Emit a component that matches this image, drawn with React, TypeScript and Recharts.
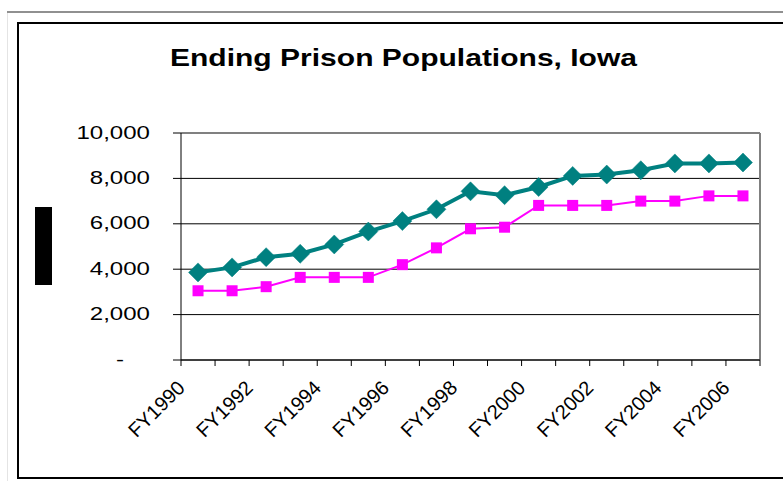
import React from 'react';
import { ComposedChart, Line, XAxis, YAxis, CartesianGrid } from 'recharts';

// ---------- data ----------
const categories = [
  'FY1990', 'FY1991', 'FY1992', 'FY1993', 'FY1994', 'FY1995', 'FY1996', 'FY1997', 'FY1998',
  'FY1999', 'FY2000', 'FY2001', 'FY2002', 'FY2003', 'FY2004', 'FY2005', 'FY2006',
];
const tealSeries = [3860, 4080, 4530, 4680, 5090, 5660, 6120, 6640, 7430, 7260, 7620, 8110, 8170, 8360, 8660, 8660, 8700];
const magentaSeries = [3050, 3050, 3230, 3640, 3640, 3640, 4200, 4940, 5780, 5850, 6810, 6810, 6810, 7000, 7000, 7230, 7230];
const yTicks = [0, 2000, 4000, 6000, 8000, 10000];
const titleText = 'Ending Prison Populations, Iowa';

const data = categories.map((c, i) => ({ year: c, teal: tealSeries[i], magenta: magentaSeries[i] }));

// ---------- layout ----------
const W = 783;
const H = 481;
const PLOT_LEFT = 181;
const PLOT_RIGHT = 760;
const PLOT_TOP = 133;
const PLOT_BOTTOM = 360;
const YAXIS_W = 100;
const XAXIS_H = 80;
const FONT = '"Liberation Sans", Arial, Helvetica, sans-serif';

const CHAR_W: Record<string, number> = {
  '0': 0.556, '1': 0.556, '2': 0.556, '3': 0.556, '4': 0.556, '5': 0.556, '6': 0.556,
  '7': 0.556, '8': 0.556, '9': 0.556, ',': 0.278, '-': 0.333, F: 0.611, Y: 0.667,
};
const textWidth = (s: string, size: number) =>
  s.split('').reduce((a, ch) => a + (CHAR_W[ch] ?? 0.556), 0) * size;

const fmtY = (v: number) => (v === 0 ? '-' : v.toLocaleString('en-US'));

const YTick = (props: any) => {
  const { x, y, payload } = props;
  const label = fmtY(payload.value);
  const size = 18.5;
  const tx = payload.value === 0 ? x - 26 : x;
  return (
    <text
      x={tx}
      y={y + 5.5}
      textAnchor="end"
      fontFamily={FONT}
      fontSize={size}
      fill="#000"
      textLength={textWidth(label, size) * 1.3}
      lengthAdjust="spacingAndGlyphs"
    >
      {label}
    </text>
  );
};

const XTick = (props: any) => {
  const { x, y, payload, index } = props;
  const band = (PLOT_RIGHT - PLOT_LEFT) / categories.length;
  const left = x - band / 2;
  const right = x + band / 2;
  const lx = x - 12;
  const ly = y + 29;
  return (
    <g>
      <line x1={left} y1={y} x2={left} y2={y + 6} stroke="#000" strokeWidth={1} />
      {index === categories.length - 1 && (
        <line x1={right} y1={y} x2={right} y2={y + 6} stroke="#000" strokeWidth={1} />
      )}
      {index % 2 === 0 && (
        <text
          x={lx}
          y={ly}
          textAnchor="end"
          fontFamily={FONT}
          fontSize={20}
          fill="#000"
          transform={`rotate(-45, ${lx}, ${ly})`}
        >
          {payload.value}
        </text>
      )}
    </g>
  );
};

const Diamond = (props: any) => {
  const { cx, cy, index } = props;
  if (cx == null || cy == null) return <g key={`d-${index}`} />;
  const r = 9.5;
  return (
    <polygon
      key={`d-${index}`}
      points={`${cx},${cy - r} ${cx + r},${cy} ${cx},${cy + r} ${cx - r},${cy}`}
      fill="#008080"
      stroke="#008080"
      strokeWidth={0.5}
    />
  );
};

const Square = (props: any) => {
  const { cx, cy, index } = props;
  if (cx == null || cy == null) return <g key={`s-${index}`} />;
  const s = 11;
  return <rect key={`s-${index}`} x={cx - s / 2} y={cy - s / 2} width={s} height={s} fill="#FF00FF" />;
};

export default function App() {
  return (
    <div
      style={{
        position: 'absolute',
        left: 0,
        top: 0,
        width: W,
        height: H,
        overflow: 'hidden',
        background: '#fff',
        fontFamily: FONT,
      }}
    >
      {/* outer sheet lines */}
      <div style={{ position: 'absolute', left: 7, top: 11, width: W, height: 2, background: '#909090' }} />
      <div style={{ position: 'absolute', left: 7, top: 13, width: 1, height: H, background: '#e4e4e4' }} />
      {/* chart frame */}
      <div
        style={{
          position: 'absolute',
          left: 17,
          top: 22,
          width: 820,
          height: 453,
          border: '2px solid #000',
        }}
      />
      {/* black block at left */}
      <div style={{ position: 'absolute', left: 35, top: 207, width: 17, height: 78, background: '#000' }} />

      <div style={{ position: 'absolute', left: 0, top: 0 }}>
        <ComposedChart
          width={W}
          height={H}
          data={data}
          margin={{
            top: PLOT_TOP,
            right: W - PLOT_RIGHT,
            bottom: H - PLOT_BOTTOM - XAXIS_H,
            left: PLOT_LEFT - YAXIS_W,
          }}
        >
          <CartesianGrid vertical={false} stroke="#000" strokeWidth={1} />
          <CartesianGrid
            stroke="#808080"
            strokeWidth={2}
            horizontalPoints={[PLOT_TOP]}
            verticalPoints={[PLOT_RIGHT]}
          />
          <XAxis
            dataKey="year"
            scale="band"
            interval={0}
            tickLine={false}
            tickSize={0}
            tickMargin={0}
            axisLine={{ stroke: '#000', strokeWidth: 1 }}
            height={XAXIS_H}
            tick={<XTick />}
          />
          <YAxis
            domain={[0, 10000]}
            ticks={yTicks}
            width={YAXIS_W}
            tickSize={8}
            tickMargin={23}
            axisLine={{ stroke: '#000', strokeWidth: 1 }}
            tickLine={{ stroke: '#000', strokeWidth: 1 }}
            tick={<YTick />}
            interval={0}
          />
          <Line
            dataKey="magenta"
            stroke="#FF00FF"
            strokeWidth={2}
            dot={(p: any) => <Square key={`s-${p.index}`} {...p} />}
            activeDot={false}
            isAnimationActive={false}
          />
          <Line
            dataKey="teal"
            stroke="#008080"
            strokeWidth={4}
            dot={(p: any) => <Diamond key={`d-${p.index}`} {...p} />}
            activeDot={false}
            isAnimationActive={false}
          />
        </ComposedChart>
      </div>

      <svg style={{ position: 'absolute', left: 0, top: 0 }} width={W} height={100}>
        <text
          x={170}
          y={66}
          fontFamily={FONT}
          fontWeight="bold"
          fontSize={24}
          fill="#000"
          textLength={467}
          lengthAdjust="spacingAndGlyphs"
        >
          {titleText}
        </text>
      </svg>
    </div>
  );
}
